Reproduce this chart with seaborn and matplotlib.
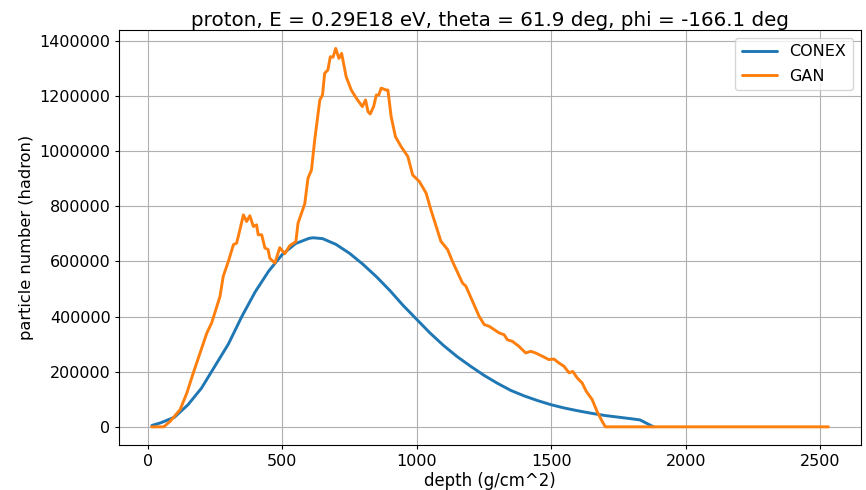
import numpy as np
import pandas as pd
import matplotlib
matplotlib.use("Agg")
import matplotlib.pyplot as plt
import seaborn as sns

title = "proton, E = 0.29E18 eV, theta = 61.9 deg, phi = -166.1 deg"
series_names = ["CONEX", "GAN"]

conex_depth = [16, 50, 100, 150, 200, 250, 300, 350, 400, 450, 500, 550, 600, 615,
               650, 700, 750, 800, 850, 900, 950, 1000, 1050, 1100, 1150, 1200,
               1250, 1300, 1350, 1400, 1450, 1500, 1550, 1600, 1650, 1700, 1750,
               1800, 1830, 1870, 1880]
conex_value = [5000, 15000, 35000, 80000, 140000, 220000, 300000, 400000, 490000,
               565000, 625000, 665000, 684000, 686000, 683000, 662000, 630000,
               590000, 545000, 495000, 440000, 390000, 340000, 295000, 255000,
               220000, 187000, 158000, 132000, 112000, 95000, 80000, 68000, 58000,
               49000, 41000, 35000, 29000, 25000, 5000, 0]

gan_depth = [15, 60, 84, 121, 146, 170, 195, 220, 238, 269, 281, 300, 319, 331, 343,
             356, 368, 380, 393, 405, 411, 424, 436, 448, 454, 473, 491, 510, 528,
             551, 559, 584, 596, 609, 621, 640, 650, 658, 670, 679, 689, 699, 711,
             721, 738, 757, 776, 798, 810, 819, 827, 840, 850, 859, 868, 887, 893,
             905, 921, 942, 967, 985, 1010, 1035, 1053, 1090, 1115, 1133, 1170,
             1183, 1232, 1251, 1269, 1306, 1325, 1337, 1356, 1380, 1405, 1424,
             1442, 1467, 1491, 1510, 1528, 1547, 1566, 1580, 1596, 1615, 1630,
             1652, 1670, 1689, 1701, 2530]
gan_value = [0, 0, 20000, 62700, 123000, 196000, 268000, 340000, 377000, 473000,
             546000, 600000, 661000, 667000, 715000, 769000, 745000, 766000,
             727000, 733000, 697000, 697000, 649000, 643000, 612000, 594000,
             650000, 628000, 657000, 672000, 739000, 809000, 902000, 932000,
             1041000, 1186000, 1204000, 1283000, 1295000, 1343000, 1341000,
             1373000, 1337000, 1355000, 1270000, 1222000, 1192000, 1162000,
             1186000, 1144000, 1135000, 1162000, 1204000, 1204000, 1229000,
             1222000, 1222000, 1126000, 1053000, 1017000, 981000, 914000,
             890000, 848000, 787000, 673000, 643000, 600000, 522000, 510000,
             401000, 371000, 365000, 341000, 334000, 316000, 310000, 292000,
             268000, 274000, 268000, 256000, 244000, 246000, 232000, 220000,
             196000, 201000, 178000, 159000, 129000, 99000, 56500, 20300, 0, 0]

df = pd.concat([
    pd.DataFrame({"depth": conex_depth, "value": conex_value, "series": series_names[0]}),
    pd.DataFrame({"depth": gan_depth, "value": gan_value, "series": series_names[1]}),
], ignore_index=True)

sns.set_style("ticks")
plt.rcParams["font.family"] = ["DejaVu Sans"]
plt.rcParams["text.color"] = "black"
plt.rcParams["axes.labelcolor"] = "black"
plt.rcParams["xtick.color"] = "black"
plt.rcParams["ytick.color"] = "black"

fig = plt.figure(figsize=(8.66, 4.9), dpi=100)
ax = fig.add_axes([0.1378, 0.0918, 0.9939 - 0.1378, 0.9388 - 0.0918])

sns.lineplot(data=df, x="depth", y="value", hue="series", sort=False,
             palette=["#1f77b4", "#ff7f0e"], linewidth=2.1, ax=ax,
             estimator=None)

ax.grid(True, color="#b0b0b0", linewidth=0.8)
ax.set_axisbelow(True)
for s in ax.spines.values():
    s.set_color("black")
    s.set_linewidth(0.8)
ax.tick_params(labelsize=11.5, colors="black", length=2.8, width=0.8, pad=3.5)
ax.ticklabel_format(style="plain", axis="y")
ax.set_xticks([0, 500, 1000, 1500, 2000, 2500])
ax.set_yticks(np.arange(0, 1400001, 200000))
ax.set_xlim(-105, 2650)
ax.set_ylim(-66000, 1440000)
ax.set_xlabel("depth (g/cm^2)", fontsize=11.9, labelpad=2, color="black")
ax.set_ylabel("particle number (hadron)", fontsize=11.7, labelpad=4, color="black")
ax.set_title(title, fontsize=14.3, pad=2.5, color="black")

handles, labels = ax.get_legend_handles_labels()
leg = ax.legend(handles, labels, loc="upper right", fontsize=11.5, frameon=True,
                handlelength=2.2, labelspacing=0.6)
for t in leg.get_texts():
    t.set_color("black")

fig.savefig("out.png", dpi=100)
